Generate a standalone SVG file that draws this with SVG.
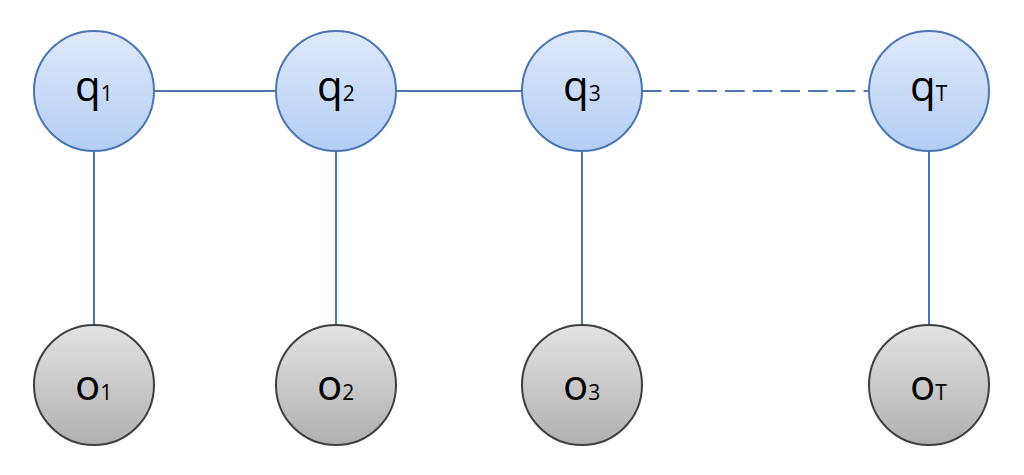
<svg xmlns="http://www.w3.org/2000/svg" width="1024" height="475" viewBox="0 0 1024 475">
<defs>
<linearGradient id="gq" x1="0" y1="0" x2="0" y2="1">
<stop offset="0" stop-color="#dfe9fb"/>
<stop offset="1" stop-color="#b3cdf3"/>
</linearGradient>
<linearGradient id="go" x1="0" y1="0" x2="0" y2="1">
<stop offset="0" stop-color="#e3e3e3"/>
<stop offset="1" stop-color="#b0b0b0"/>
</linearGradient>
</defs>
<style>
.q{fill:url(#gq);stroke:#4a77b4;stroke-width:2}
.o{fill:url(#go);stroke:#3f3f3f;stroke-width:2}
.e{stroke:#4a77b4;stroke-width:2;fill:none}
.d{stroke-dasharray:19.5,8.2}
.t{font-family:"Open Sans","Liberation Sans",sans-serif;font-size:42px;fill:#000}
.s{font-size:21px}
</style>
<rect width="1024" height="475" fill="#fff"/>
<g id="connectors">
<line class="e" x1="154" y1="91" x2="277" y2="91"/>
<line class="e" x1="396" y1="91" x2="523" y2="91"/>
<line class="e d" x1="642" y1="91" x2="870" y2="91"/>
<line class="e" x1="94" y1="151" x2="94" y2="325"/>
<line class="e" x1="336" y1="151" x2="336" y2="325"/>
<line class="e" x1="582" y1="151" x2="582" y2="325"/>
<line class="e" x1="929" y1="151" x2="929" y2="325"/>
</g>
<g id="q1"><circle class="q" cx="94" cy="91" r="60"/><text class="t" x="75" y="101">q<tspan class="s">1</tspan></text></g>
<g id="q2"><circle class="q" cx="336" cy="91" r="60"/><text class="t" x="317" y="101">q<tspan class="s">2</tspan></text></g>
<g id="q3"><circle class="q" cx="582" cy="91" r="60"/><text class="t" x="563" y="101">q<tspan class="s">3</tspan></text></g>
<g id="qT"><circle class="q" cx="929" cy="91" r="60"/><text class="t" x="910" y="101">q<tspan class="s">T</tspan></text></g>
<g id="o1"><circle class="o" cx="94" cy="385" r="60"/><text class="t" x="75" y="400">o<tspan class="s">1</tspan></text></g>
<g id="o2"><circle class="o" cx="336" cy="385" r="60"/><text class="t" x="317" y="400">o<tspan class="s">2</tspan></text></g>
<g id="o3"><circle class="o" cx="582" cy="385" r="60"/><text class="t" x="563" y="400">o<tspan class="s">3</tspan></text></g>
<g id="oT"><circle class="o" cx="929" cy="385" r="60"/><text class="t" x="910" y="400">o<tspan class="s">T</tspan></text></g>
</svg>
